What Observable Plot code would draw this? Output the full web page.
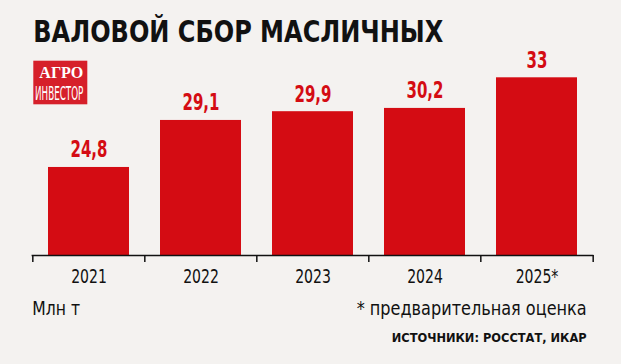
<!DOCTYPE html>
<html><head><meta charset="utf-8">
<script src="https://cdn.jsdelivr.net/npm/d3@7"></script>
<script src="https://cdn.jsdelivr.net/npm/@observablehq/plot@0.6"></script>
<style>
html,body{margin:0;padding:0;background:#f4f2f0;}
#wrap{position:relative;width:621px;height:364px;overflow:hidden;background:#f4f2f0;}
#wrap svg{position:absolute;left:0;top:0;}
</style></head><body><div id="wrap"></div>
<script>
// Data
const years = ["2021", "2022", "2023", "2024", "2025*"];
const values = [24.8, 29.1, 29.9, 30.2, 33];
const valueLabels = ["24,8", "29,1", "29,9", "30,2", "33"];
const title = "ВАЛОВОЙ СБОР МАСЛИЧНЫХ";
const unitLabel = "Млн т";
const footnote = "* предварительная оценка";
const sourceLine = "ИСТОЧНИКИ: РОССТАТ, ИКАР";
const logoLines = ["АГРО", "ИНВЕСТОР"];
const yBase = 16.75;
const yTop = 33;

const data = years.map((y, i) => ({year: y, value: values[i], label: valueLabels[i]}));

// pick a condensed font if available
function measure(txt, family, stretch) {
  const s = document.createElement("span");
  s.style.cssText = `position:absolute;visibility:hidden;white-space:nowrap;font-family:${family};font-stretch:${stretch};font-size:100px`;
  s.textContent = txt;
  document.body.appendChild(s);
  const w = s.getBoundingClientRect().width;
  s.remove();
  return w;
}
const hasNotoCond = measure("предварительная", "'Noto Sans'", "condensed") /
                    measure("предварительная", "'Noto Sans'", "normal") < 0.92;
const font = hasNotoCond ? "'Noto Sans'" : "'DejaVu Sans Condensed','DejaVu Sans',sans-serif";
const stretch = hasNotoCond ? "condensed" : "normal";

const W = 621, H = 364, mL = 31.6, mR = 27.6, mT = 77.3, mB = 109;
const step = (W - mL - mR) / years.length;
const red = "#d40c13";
const ink = "#111111";

const chart = Plot.plot({
  width: W, height: H,
  marginLeft: mL, marginRight: mR, marginTop: mT, marginBottom: mB,
  style: {background: "transparent", fontFamily: font, fontStretch: stretch, color: ink, overflow: "visible"},
  x: {domain: years, paddingInner: 0.28, paddingOuter: 0.14},
  y: {domain: [yBase, yTop], axis: null},
  marks: [
    Plot.barY(data, {x: "year", y1: () => yBase, y2: "value", fill: red}),
    Plot.text(data, {x: "year", y: "value", text: "label", dy: -10, lineAnchor: "bottom",
      fill: red, fontSize: 23.5, fontWeight: "600", className: "vlabel"}),
    Plot.ruleY([yBase], {stroke: ink, strokeWidth: 1.5}),
    Plot.ruleX(years, {x: d => d, dx: -step / 2, y1: () => yBase, y2: () => yBase,
      insetBottom: -7, stroke: ink, strokeWidth: 1.5}),
    Plot.ruleX([years[years.length - 1]], {x: d => d, dx: step / 2, y1: () => yBase, y2: () => yBase,
      insetBottom: -7, stroke: ink, strokeWidth: 1.5}),
    Plot.axisX({tickSize: 0, tickPadding: 14, fontSize: 19.5, label: null, fill: ink, className: "xlab"})
  ]
});
document.getElementById("wrap").appendChild(chart);

// condense Plot's texts to the reference's narrow proportions
function condense(selector, refText, refWidth) {
  const nodes = chart.querySelectorAll(selector);
  let factor = null;
  nodes.forEach(n => { if (n.textContent === refText) factor = refWidth / n.getComputedTextLength(); });
  if (!factor) return;
  nodes.forEach(n => {
    n.setAttribute("textLength", (n.getComputedTextLength() * factor).toFixed(2));
    n.setAttribute("lengthAdjust", "spacingAndGlyphs");
  });
}
condense(".vlabel text", "24,8", 37);
condense(".xlab text", "2021", 35.7);

// Overlay text: title, logo, notes
const ov = d3.select("#wrap").append("svg")
  .attr("width", W).attr("height", H)
  .style("font-family", font).style("font-stretch", stretch);

ov.append("text").text(title)
  .attr("x", 33.3).attr("y", 41.7)
  .attr("font-size", 29.5).attr("font-weight", "bold").attr("fill", ink)
  .attr("textLength", 410).attr("lengthAdjust", "spacingAndGlyphs");

ov.append("rect").attr("x", 33.3).attr("y", 60.7).attr("width", 54).attr("height", 43.6).attr("fill", "#d6202a");
ov.append("text").text(logoLines[0])
  .attr("x", 39.3).attr("y", 77.8)
  .attr("font-family", "'Liberation Serif','DejaVu Serif',serif")
  .attr("font-size", 16.5).attr("font-weight", "bold").attr("fill", "#fff")
  .attr("textLength", 44).attr("lengthAdjust", "spacingAndGlyphs");
ov.append("text").text(logoLines[1])
  .attr("x", 35).attr("y", 100.2)
  .attr("font-size", 19.5).attr("fill", "#fff")
  .attr("textLength", 48.3).attr("lengthAdjust", "spacingAndGlyphs");

ov.append("text").text(unitLabel)
  .attr("x", 32.3).attr("y", 315)
  .attr("font-size", 20).attr("fill", ink)
  .attr("textLength", 47.7).attr("lengthAdjust", "spacingAndGlyphs");

ov.append("text").text(footnote)
  .attr("x", 586.7).attr("y", 314.5).attr("text-anchor", "end")
  .attr("font-size", 20).attr("fill", ink)
  .attr("textLength", 230).attr("lengthAdjust", "spacingAndGlyphs");

ov.append("text").text(sourceLine)
  .attr("x", 586.7).attr("y", 341.7).attr("text-anchor", "end")
  .attr("font-size", 12.5).attr("font-weight", "bold").attr("fill", ink)
  .attr("textLength", 195).attr("lengthAdjust", "spacingAndGlyphs");
</script>
</body></html>
